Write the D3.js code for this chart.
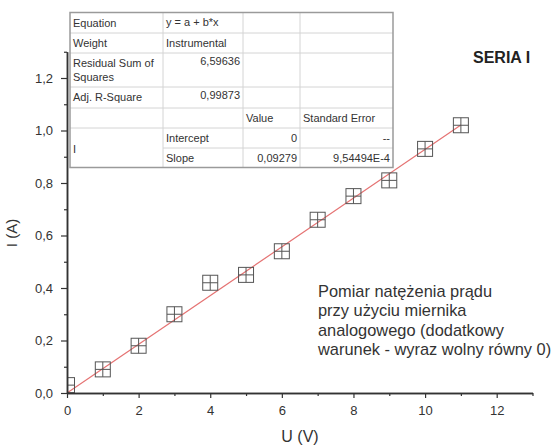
<!DOCTYPE html>
<html>
<head>
  <meta charset="utf-8">
  <script src="https://d3js.org/d3.v7.min.js"></script>
  <style>
    body { margin: 0; background: #fff; }
    svg { display: block; font-family: "Liberation Sans", Arial, sans-serif; }
    .axis path, .axis line { stroke: #333; }
    .axis path { stroke-width: 1.5px; }
    .axis line { stroke-width: 1.2px; }
    .axis text { fill: #333; font-size: 13px; font-family: "Liberation Sans", Arial, sans-serif; }
    .marker rect, .marker line { stroke: #555; stroke-width: 1px; fill: none; }
    .fit { stroke: #e57373; stroke-width: 1.2px; fill: none; }
    .tbl text { font-size: 11px; fill: #333; }
    .grid { stroke: #d4d4d4; stroke-width: 1px; }
  </style>
</head>
<body>
  <svg id="chart"></svg>
  <script>

    // measured data (U in volts, I in amperes)
    var voltage = [0, 1, 2, 3, 4, 5, 6, 7, 8, 9, 10, 11];
    var current = [0.03, 0.09, 0.18, 0.30, 0.42, 0.45, 0.54, 0.66, 0.75, 0.81, 0.93, 1.02];

    // fit result y = a + b*x
    var intercept = 0;
    var slope = 0.09279;

    var xMajor = [0, 2, 4, 6, 8, 10, 12];
    var xMinor = [1, 3, 5, 7, 9, 11, 13];
    var yMajor = [0, 0.2, 0.4, 0.6, 0.8, 1.0, 1.2];
    var yMinor = [0.1, 0.3, 0.5, 0.7, 0.9, 1.1, 1.3];

    var tableCols = ["Equation", "Weight", "Residual Sum of\nSquares", "Adj. R-Square", "", "I", ""];
    var tableRows = [
      ["y = a + b*x", "", ""],
      ["Instrumental", "", ""],
      ["6,59636", "", ""],
      ["0,99873", "", ""],
      ["", "Value", "Standard Error"],
      ["Intercept", "0", "--"],
      ["Slope", "0,09279", "9,54494E-4"]
    ];

    var noteLines = ["Pomiar natężenia prądu", "przy użyciu miernika",
                     "analogowego (dodatkowy", "warunek - wyraz wolny równy 0)"];

    var width = 553, height = 448;

    var svg = d3.select("#chart")
        .attr("width", width)
        .attr("height", height);

    svg.append("rect").attr("width", width).attr("height", height).attr("fill", "#fff");

    var x = d3.scaleLinear().domain([0, 13]).range([67, 532.5]);
    var y = d3.scaleLinear().domain([0, 1.3]).range([393, 51.75]);

    var comma = function(f) { return function(d) { return f(d).replace(".", ","); }; };

    svg.append("clipPath").attr("id", "plotclip")
      .append("rect")
        .attr("x", x(0)).attr("y", y(1.3))
        .attr("width", x(13) - x(0)).attr("height", y(0) - y(1.3));

    // fit line
    svg.append("line")
        .attr("class", "fit")
        .attr("x1", x(0)).attr("y1", y(intercept))
        .attr("x2", x(11)).attr("y2", y(intercept + slope * 11));

    // markers
    var pts = voltage.map(function(v, i) { return {u: v, i: current[i]}; });
    var s = 7.5;
    var marker = svg.append("g")
        .attr("clip-path", "url(#plotclip)")
      .selectAll("g")
      .data(pts)
      .enter().append("g")
        .attr("class", "marker")
        .attr("transform", function(d) { return "translate(" + x(d.u) + "," + y(d.i) + ")"; });
    marker.append("rect").attr("x", -s).attr("y", -s).attr("width", 2 * s).attr("height", 2 * s);
    marker.append("line").attr("x1", -s).attr("x2", s).attr("y1", 0).attr("y2", 0);
    marker.append("line").attr("x1", 0).attr("x2", 0).attr("y1", -s).attr("y2", s);

    // axes
    svg.append("g")
        .attr("class", "axis")
        .attr("transform", "translate(0," + y(0) + ")")
        .call(d3.axisBottom(x).tickValues(xMinor).tickSize(3).tickSizeOuter(0).tickFormat(""));
    svg.append("g")
        .attr("class", "axis")
        .attr("transform", "translate(0," + y(0) + ")")
        .call(d3.axisBottom(x).tickValues(xMajor).tickSize(5).tickSizeOuter(0).tickPadding(8)
          .tickFormat(d3.format("d")));

    svg.append("g")
        .attr("class", "axis")
        .attr("transform", "translate(" + x(0) + ",0)")
        .call(d3.axisLeft(y).tickValues(yMinor).tickSize(3).tickSizeOuter(0).tickFormat(""));
    svg.append("g")
        .attr("class", "axis")
        .attr("transform", "translate(" + x(0) + ",0)")
        .call(d3.axisLeft(y).tickValues(yMajor).tickSize(6).tickSizeOuter(0).tickPadding(8)
          .tickFormat(comma(d3.format(".1f"))));

    svg.append("text")
        .attr("x", 300).attr("y", 442)
        .attr("text-anchor", "middle")
        .attr("font-size", 16).attr("fill", "#333")
        .text("U (V)");

    svg.append("text")
        .attr("transform", "translate(17,233) rotate(-90)")
        .attr("text-anchor", "middle")
        .attr("font-size", 15).attr("fill", "#333")
        .text("I (A)");

    svg.append("text")
        .attr("x", 473).attr("y", 63)
        .attr("font-size", 16).attr("font-weight", "bold").attr("fill", "#222")
        .text("SERIA I");

    svg.append("g")
        .selectAll("text")
        .data(noteLines)
        .enter().append("text")
        .attr("x", 318)
        .attr("y", function(d, i) { return 297 + i * 19.3; })
        .attr("font-size", 16.4).attr("fill", "#333")
        .text(function(d) { return d; });

    // fit table
    var colX = [70, 163, 243, 300, 393];
    var rowY = [12.5, 33, 53, 87, 108, 128, 148, 167.5];
    var tbl = svg.append("g").attr("class", "tbl");

    tbl.append("rect")
        .attr("x", colX[0]).attr("y", rowY[0])
        .attr("width", colX[4] - colX[0]).attr("height", rowY[7] - rowY[0])
        .attr("fill", "#fff");

    // horizontal grid lines
    rowY.slice(1, -1).forEach(function(ry, i) {
      tbl.append("line").attr("class", "grid")
          .attr("x1", i == 5 ? colX[1] : colX[0]).attr("x2", colX[4])
          .attr("y1", ry).attr("y2", ry);
    });
    colX.slice(1, -1).forEach(function(cx) {
      tbl.append("line").attr("class", "grid")
          .attr("x1", cx).attr("x2", cx)
          .attr("y1", rowY[0]).attr("y2", rowY[7]);
    });

    tbl.append("rect")
        .attr("x", colX[0]).attr("y", rowY[0])
        .attr("width", colX[4] - colX[0]).attr("height", rowY[7] - rowY[0])
        .attr("fill", "none").attr("stroke", "#9a9a9a").attr("stroke-width", 1.5);

    tableCols.forEach(function(label, r) {
      if (!label) return;
      var top = r == 5 ? rowY[5] + 11 : rowY[r];
      label.split("\n").forEach(function(line, k) {
        tbl.append("text")
            .attr("x", colX[0] + 3)
            .attr("y", top + 14 + k * 14)
            .text(line);
      });
    });

    tableRows.forEach(function(row, r) {
      row.forEach(function(val, c) {
        if (!val) return;
        var numeric = /^[0-9\-,E]+$/.test(val);
        var t = tbl.append("text")
            .attr("y", rowY[r] + (r == 2 || r == 3 ? 12 : 13.5))
            .text(val);
        if (numeric) {
          t.attr("x", colX[c + 2] - 3).attr("text-anchor", "end");
        } else {
          t.attr("x", colX[c + 1] + 3);
        }
      });
    });

  </script>
</body>
</html>
